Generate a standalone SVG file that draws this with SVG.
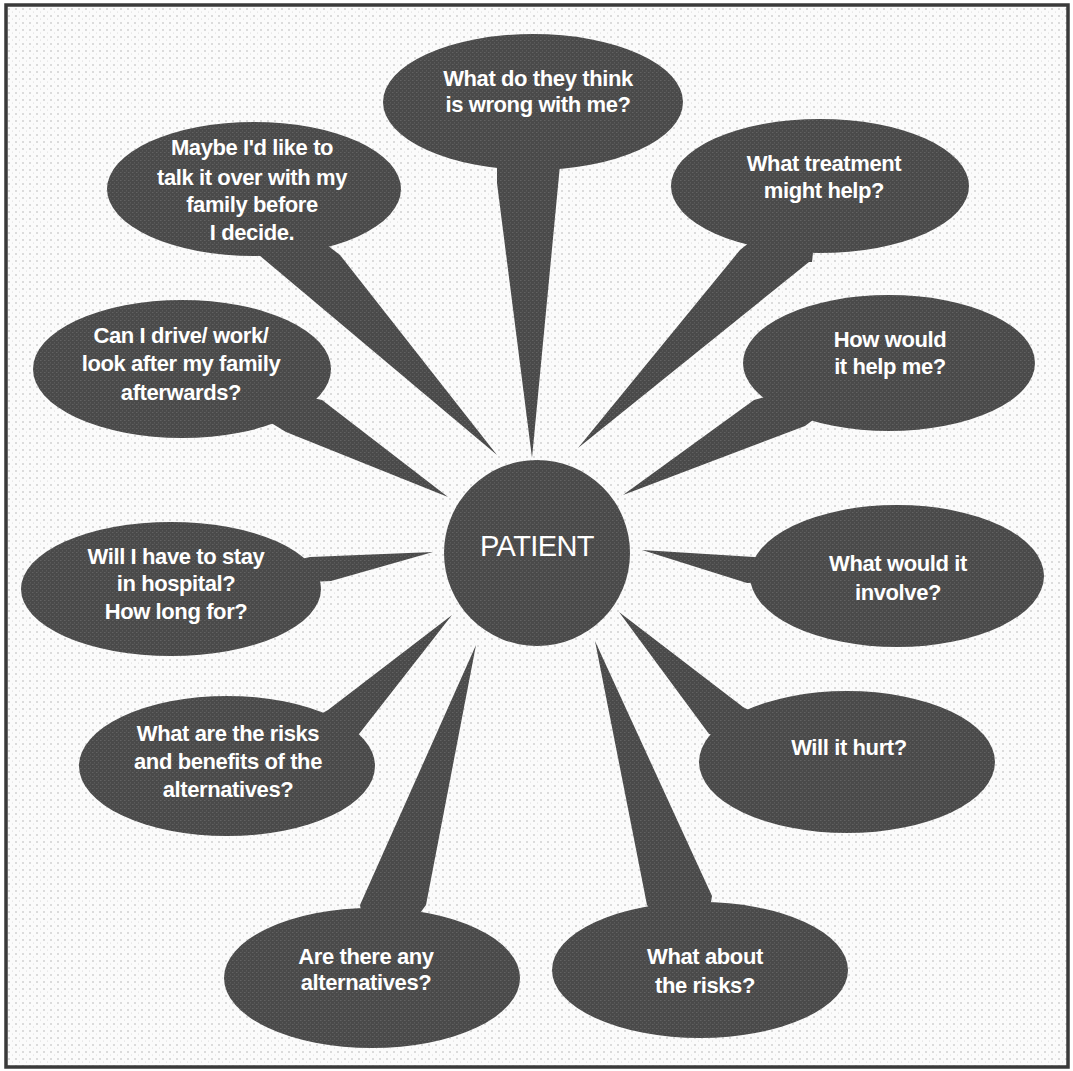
<svg xmlns="http://www.w3.org/2000/svg" width="1073" height="1071" viewBox="0 0 1073 1071">
<defs>
<pattern id="bg" x="0" y="0" width="7" height="7" patternUnits="userSpaceOnUse">
<rect width="7" height="7" fill="#fbfbfb"/>
<circle cx="2" cy="2" r="0.8" fill="#b4b4b4"/>
<circle cx="5.5" cy="5" r="0.5" fill="#d0d0d0"/>
</pattern>
<pattern id="bub" x="0" y="0" width="4" height="4" patternUnits="userSpaceOnUse">
<rect width="4" height="4" fill="#4a4a4a"/>
<rect x="0" y="0" width="1.5" height="1" fill="#626262"/>
<rect x="2" y="2" width="1" height="1.5" fill="#5a5a5a"/>
</pattern>
<style>
.b{fill:url(#bub);}
.t{fill:#ffffff;font-family:"Liberation Sans",Arial,sans-serif;font-weight:bold;font-size:22px;letter-spacing:-0.4px;text-anchor:middle;}
.p{fill:#ffffff;font-family:"Liberation Sans",Arial,sans-serif;font-size:29px;letter-spacing:-0.6px;text-anchor:middle;}
</style>
</defs>
<rect x="0" y="0" width="1073" height="1071" fill="#ffffff"/>
<rect x="6" y="5" width="1062" height="1062" fill="url(#bg)" stroke="#3a3a3a" stroke-width="3.5"/>
<g id="connectors">
<polygon class="b" points="532,458 497,183 497,160 533,102 560,165"/>
<polygon class="b" points="578,448 740,250 820,186 812,262 809,262"/>
<polygon class="b" points="497,455 259,255 254,189 340,255"/>
<polygon class="b" points="623,495 754,400 889,363 805,426"/>
<polygon class="b" points="448,497 286,432 182,369 322,400"/>
<polygon class="b" points="433,552 310,557 171,589 331,581"/>
<polygon class="b" points="642,550 754,557 897,576 747,583"/>
<polygon class="b" points="452,615 328,710 227,766 359,734"/>
<polygon class="b" points="619,612 743,707 847,762 709,734"/>
<polygon class="b" points="476,645 360,905 372,978 426,905"/>
<polygon class="b" points="595,641 647,905 700,970 712,896"/>
</g>
<g id="n-wrong">
<ellipse class="b" cx="533" cy="102" rx="150" ry="68"/>
<text class="t" x="538" y="86">What do they think</text>
<text class="t" x="538" y="112">is wrong with me?</text>
</g>
<g id="n-treatment">
<ellipse class="b" cx="820" cy="186" rx="149" ry="67"/>
<text class="t" x="824" y="171">What treatment</text>
<text class="t" x="824" y="198">might help?</text>
</g>
<g id="n-family">
<ellipse class="b" cx="254" cy="189" rx="147" ry="67"/>
<text class="t" x="252" y="155">Maybe I'd like to</text>
<text class="t" x="252" y="185">talk it over with my</text>
<text class="t" x="252" y="212">family before</text>
<text class="t" x="252" y="240">I decide.</text>
</g>
<g id="n-helpme">
<ellipse class="b" cx="889" cy="363" rx="146" ry="68"/>
<text class="t" x="890" y="347">How would</text>
<text class="t" x="890" y="374">it help me?</text>
</g>
<g id="n-drive">
<ellipse class="b" cx="182" cy="369" rx="149" ry="69"/>
<text class="t" x="181" y="343">Can I drive/ work/</text>
<text class="t" x="181" y="371">look after my family</text>
<text class="t" x="181" y="400">afterwards?</text>
</g>
<g id="n-hospital">
<ellipse class="b" cx="171" cy="589" rx="150" ry="67"/>
<text class="t" x="176" y="564">Will I have to stay</text>
<text class="t" x="176" y="591">in hospital?</text>
<text class="t" x="176" y="619">How long for?</text>
</g>
<g id="n-involve">
<ellipse class="b" cx="897" cy="576" rx="147" ry="71"/>
<text class="t" x="898" y="571">What would it</text>
<text class="t" x="898" y="600">involve?</text>
</g>
<g id="n-riskben">
<ellipse class="b" cx="227" cy="766" rx="148" ry="70"/>
<text class="t" x="228" y="741">What are the risks</text>
<text class="t" x="228" y="769">and benefits of the</text>
<text class="t" x="228" y="797">alternatives?</text>
</g>
<g id="n-hurt">
<ellipse class="b" cx="847" cy="762" rx="148" ry="71"/>
<text class="t" x="849" y="755">Will it hurt?</text>
</g>
<g id="n-alternatives">
<ellipse class="b" cx="372" cy="978" rx="148" ry="70"/>
<text class="t" x="366" y="964">Are there any</text>
<text class="t" x="366" y="990">alternatives?</text>
</g>
<g id="n-risks">
<ellipse class="b" cx="700" cy="970" rx="148" ry="68"/>
<text class="t" x="705" y="964">What about</text>
<text class="t" x="705" y="993">the risks?</text>
</g>
<g id="n-patient">
<circle class="b" cx="537" cy="553" r="93"/>
<text class="p" x="537" y="556">PATIENT</text>
</g>
</svg>
